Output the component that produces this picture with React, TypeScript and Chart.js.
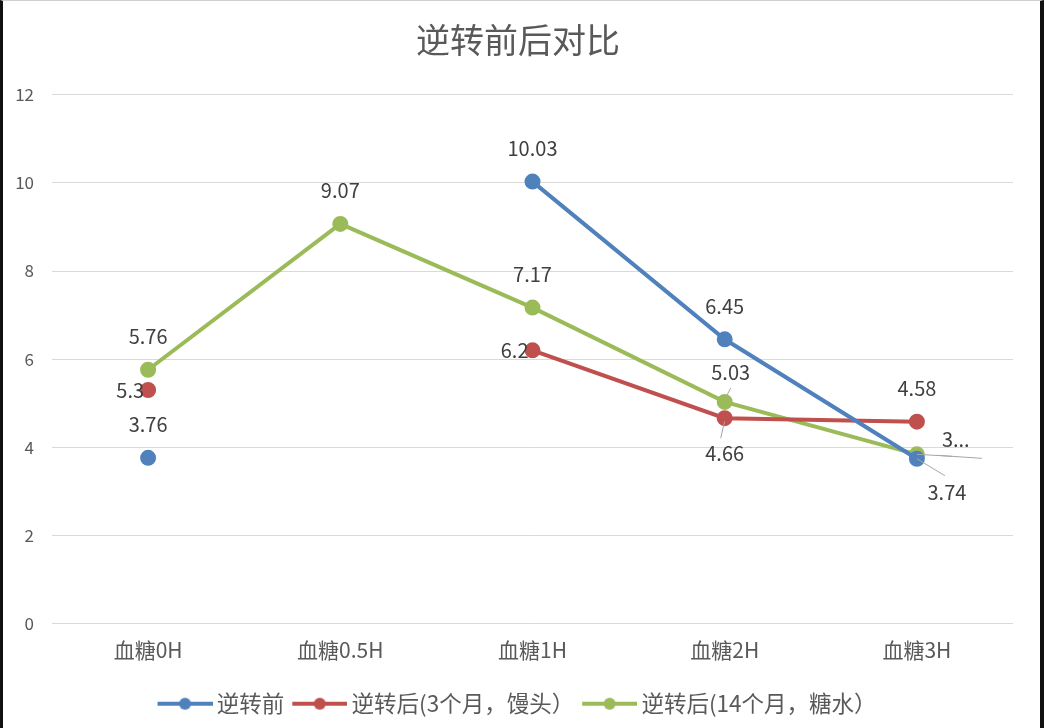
import React, { useEffect, useRef } from "react";
import { Chart, registerables } from "chart.js";

Chart.register(...registerables);

const titleText = "逆转前后对比";
const categories = ["血糖0H", "血糖0.5H", "血糖1H", "血糖2H", "血糖3H"];
const seriesNames = ["逆转前", "逆转后(3个月，馒头）", "逆转后(14个月，糖水）"];
const beforeValues: (number | null)[] = [3.76, null, 10.03, 6.45, 3.74];
const after3mValues: (number | null)[] = [5.3, null, 6.2, 4.66, 4.58];
const after14mValues: (number | null)[] = [5.76, 9.07, 7.17, 5.03, 3.84];
const beforeLabels = ["3.76", "", "10.03", "6.45", "3.74"];
const after3mLabels = ["5.3", "", "6.2", "4.66", "4.58"];
const after14mLabels = ["5.76", "9.07", "7.17", "5.03", "3..."];
const yTicks = [0, 2, 4, 6, 8, 10, 12];

const colors = ["#4F81BD", "#C0504D", "#9BBB59"];
// label placement per point (style, not data)
const placements = [
  ["top", "", "top", "top", "belowRight"],
  ["left", "", "left", "below", "top"],
  ["top", "top", "top", "topLeader", "rightLeader"],
];

const FONT = '"Noto Sans CJK SC", "Noto Sans", sans-serif';

function legendIcon(color: string) {
  const c = document.createElement("canvas");
  c.width = 60;
  c.height = 14;
  const ctx = c.getContext("2d")!;
  ctx.strokeStyle = color;
  ctx.lineWidth = 4;
  ctx.beginPath();
  ctx.moveTo(5, 7);
  ctx.lineTo(60, 7);
  ctx.stroke();
  ctx.fillStyle = color;
  ctx.beginPath();
  ctx.arc(32.5, 7, 6, 0, Math.PI * 2);
  ctx.fill();
  return c;
}

// nudge title and legend boxes so they centre like the original
const centerShiftPlugin = {
  id: "centerShift",
  afterLayout(chart: any) {
    if (chart.titleBlock) chart.titleBlock.left += 10;
    if (chart.legend) chart.legend.left += 10;
  },
};

const labelPlugin = {
  id: "valueLabels",
  afterDatasetsDraw(chart: any) {
    const ctx = chart.ctx;
    const texts = [beforeLabels, after3mLabels, after14mLabels];
    ctx.save();
    ctx.font = `20px ${FONT}`;
    ctx.fillStyle = "#404040";
    ctx.textBaseline = "middle";
    chart.data.datasets.forEach((ds: any, di: number) => {
      const meta = chart.getDatasetMeta(di);
      meta.data.forEach((pt: any, i: number) => {
        const t = texts[di][i];
        if (!t || ds.data[i] == null) return;
        const x = pt.x;
        const y = pt.y;
        const p = placements[di][i];
        ctx.textAlign = "center";
        ctx.strokeStyle = "#a6a6a6";
        ctx.lineWidth = 1;
        if (p === "top") {
          ctx.fillText(t, x, y - 33);
        } else if (p === "left") {
          ctx.textAlign = "right";
          ctx.fillText(t, x - 4, y);
        } else if (p === "below") {
          ctx.beginPath();
          ctx.moveTo(x, y + 3);
          ctx.lineTo(x - 4, y + 20);
          ctx.stroke();
          ctx.fillText(t, x, y + 35);
        } else if (p === "topLeader") {
          ctx.beginPath();
          ctx.moveTo(x, y - 2);
          ctx.lineTo(x + 6, y - 14);
          ctx.stroke();
          ctx.fillText(t, x + 6, y - 29);
        } else if (p === "belowRight") {
          ctx.beginPath();
          ctx.moveTo(x, y);
          ctx.lineTo(x + 28, y + 17);
          ctx.stroke();
          ctx.fillText(t, x + 30, y + 34);
        } else if (p === "rightLeader") {
          ctx.beginPath();
          ctx.moveTo(x, y);
          ctx.lineTo(x + 35, y + 2);
          ctx.stroke();
          ctx.beginPath();
          ctx.moveTo(x + 20, y + 1);
          ctx.lineTo(x + 65, y + 4);
          ctx.stroke();
          ctx.textAlign = "left";
          ctx.fillText(t, x + 25, y - 15);
        }
      });
    });
    ctx.restore();
  },
};

export default function App() {
  const ref = useRef<HTMLCanvasElement>(null);
  useEffect(() => {
    document.body.style.margin = "0";
    const values = [beforeValues, after3mValues, after14mValues];
    const chart = new Chart(ref.current!, {
      type: "line",
      data: {
        labels: categories,
        datasets: seriesNames.map((name, i) => ({
          label: name,
          data: values[i],
          borderColor: colors[i],
          backgroundColor: colors[i],
          pointBackgroundColor: colors[i],
          pointBorderColor: colors[i],
          borderWidth: 4,
          pointRadius: 6,
          pointHoverRadius: 6,
          pointStyle: "circle",
          spanGaps: false,
          tension: 0,
        })),
      },
      options: {
        animation: false,
        responsive: false,
        layout: { padding: { left: 10, right: 27, top: 0, bottom: 3 } },
        plugins: {
          title: {
            display: true,
            text: titleText,
            color: "#595959",
            font: { family: FONT, size: 34, weight: "normal" },
            padding: { top: 19, bottom: 34 },
          },
          legend: {
            position: "bottom",
            labels: {
              color: "#595959",
              font: { family: FONT, size: 22.5 },
              usePointStyle: true,
              pointStyleWidth: 46,
              padding: 10,
              generateLabels: (c: any) =>
                c.data.datasets.map((ds: any, i: number) => ({
                  text: ds.label,
                  fillStyle: colors[i],
                  strokeStyle: colors[i],
                  fontColor: "#595959",
                  pointStyle: legendIcon(colors[i]),
                  datasetIndex: i,
                  hidden: false,
                  lineWidth: 0,
                })),
            },
          },
          tooltip: { enabled: false },
        },
        scales: {
          x: {
            offset: true,
            grid: { display: false },
            border: { display: false },
            ticks: { color: "#595959", font: { family: FONT, size: 21 }, padding: 6 },
            afterFit: (axis: any) => {
              axis.height = 59;
            },
          },
          y: {
            min: 0,
            max: 12,
            afterBuildTicks: (axis: any) => {
              axis.ticks = yTicks.map((v) => ({ value: v }));
            },
            grid: { color: "#d9d9d9", lineWidth: 1, drawTicks: false },
            border: { display: false },
            ticks: { color: "#595959", font: { family: FONT, size: 17 }, padding: 18 },
            afterFit: (axis: any) => {
              axis.width = 39;
            },
          },
        },
      },
      plugins: [labelPlugin, centerShiftPlugin],
    });
    return () => chart.destroy();
  }, []);
  return (
    <div
      style={{
        width: 1044,
        height: 728,
        boxSizing: "border-box",
        borderLeft: "3px solid #111",
        borderRight: "4px solid #111",
        borderTop: "1px solid #d0d0d0",
        background: "#fff",
      }}
    >
      <canvas ref={ref} width={1037} height={727} style={{ display: "block" }} />
    </div>
  );
}
